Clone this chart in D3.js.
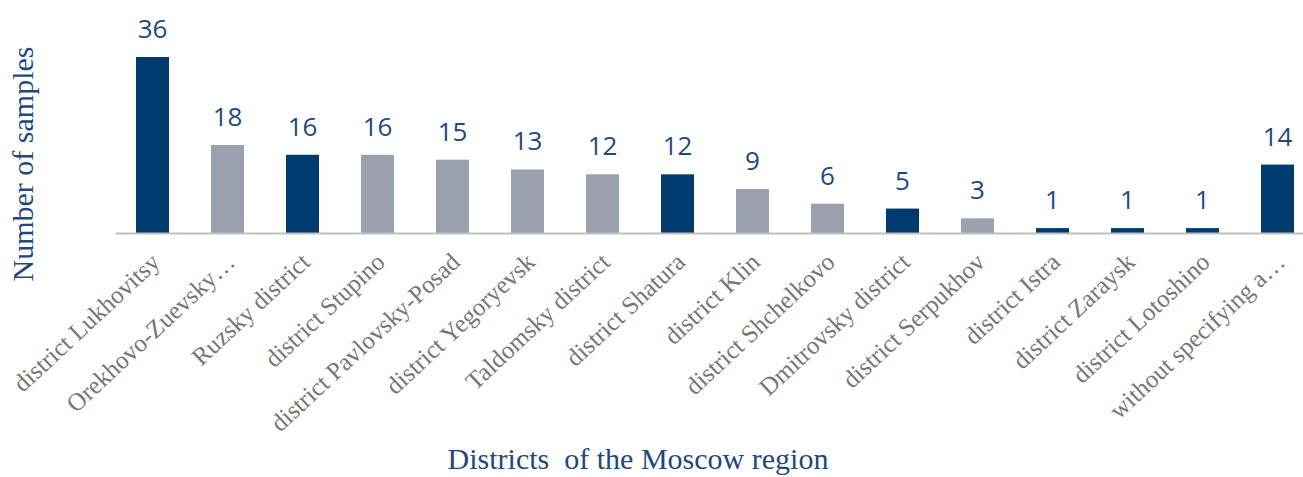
<!DOCTYPE html>
<html>
<head>
<meta charset="utf-8">
<script src="https://cdn.jsdelivr.net/npm/d3@7"></script>
<style>
  html, body { margin: 0; padding: 0; background: #fff; }
  svg { display: block; }
</style>
</head>
<body>
<svg id="chart" width="1303" height="477"></svg>
<script>
const categories = [
  "district Lukhovitsy", "Orekhovo-Zuevsky…", "Ruzsky district", "district Stupino",
  "district Pavlovsky-Posad", "district Yegoryevsk", "Taldomsky district", "district Shatura",
  "district Klin", "district Shchelkovo", "Dmitrovsky district", "district Serpukhov",
  "district Istra", "district Zaraysk", "district Lotoshino", "without specifying a…"
];
const values = [36, 18, 16, 16, 15, 13, 12, 12, 9, 6, 5, 3, 1, 1, 1, 14];
const highlighted = [true, false, true, false, false, false, false, true, false, false, true, false, true, true, true, true];
const yTitle = "Number of samples";
const xTitle = "Districts  of the Moscow region";

const navy = "#003B6F", gray = "#9AA1AD";
const svg = d3.select("#chart");

const x = d3.scaleBand().domain(categories).range([115, 1315]).paddingInner(0.56).paddingOuter(0.28);
const y = d3.scaleLinear().domain([0, 36]).range([233, 57]);

svg.selectAll("rect.bar").data(values).join("rect")
  .attr("class", "bar")
  .attr("x", (d, i) => x(categories[i]))
  .attr("y", d => y(d))
  .attr("width", x.bandwidth())
  .attr("height", d => y(0) - y(d))
  .attr("fill", (d, i) => highlighted[i] ? navy : gray);

// axis baseline
const xAxis = d3.axisBottom(x).tickSize(0).tickFormat("");
const gx = svg.append("g").attr("transform", `translate(0,${y(0)})`).call(xAxis);
gx.select(".domain").attr("stroke", "#BFBFBF").attr("stroke-width", 2);

// value labels
svg.selectAll("text.val").data(values).join("text")
  .attr("class", "val")
  .attr("x", (d, i) => x(categories[i]) + x.bandwidth() / 2)
  .attr("y", d => y(d) - 19)
  .attr("text-anchor", "middle")
  .attr("font-family", "'Open Sans', sans-serif")
  .attr("font-size", 26)
  .attr("fill", "#1F497D")
  .text(d => d);

// category labels
svg.selectAll("text.cat").data(categories).join("text")
  .attr("class", "cat")
  .attr("transform", d => `translate(${x(d) + x.bandwidth() / 2 + 9},${y(0) + 31}) rotate(-43)`)
  .attr("text-anchor", "end")
  .attr("font-family", "'Liberation Serif', 'Times New Roman', serif")
  .attr("font-size", 25)
  .attr("fill", "#767676")
  .text(d => d);

// axis titles
svg.append("text")
  .attr("transform", "translate(33,164) rotate(-90)")
  .attr("text-anchor", "middle")
  .attr("font-family", "'Liberation Serif', 'Times New Roman', serif")
  .attr("font-size", 30)
  .attr("fill", "#1F497D")
  .text(yTitle);

svg.append("text")
  .attr("x", 638)
  .attr("y", 469)
  .attr("text-anchor", "middle")
  .attr("font-family", "'Liberation Serif', 'Times New Roman', serif")
  .attr("font-size", 30)
  .attr("fill", "#1F497D")
  .style("white-space", "pre")
  .text(xTitle);
</script>
</body>
</html>
